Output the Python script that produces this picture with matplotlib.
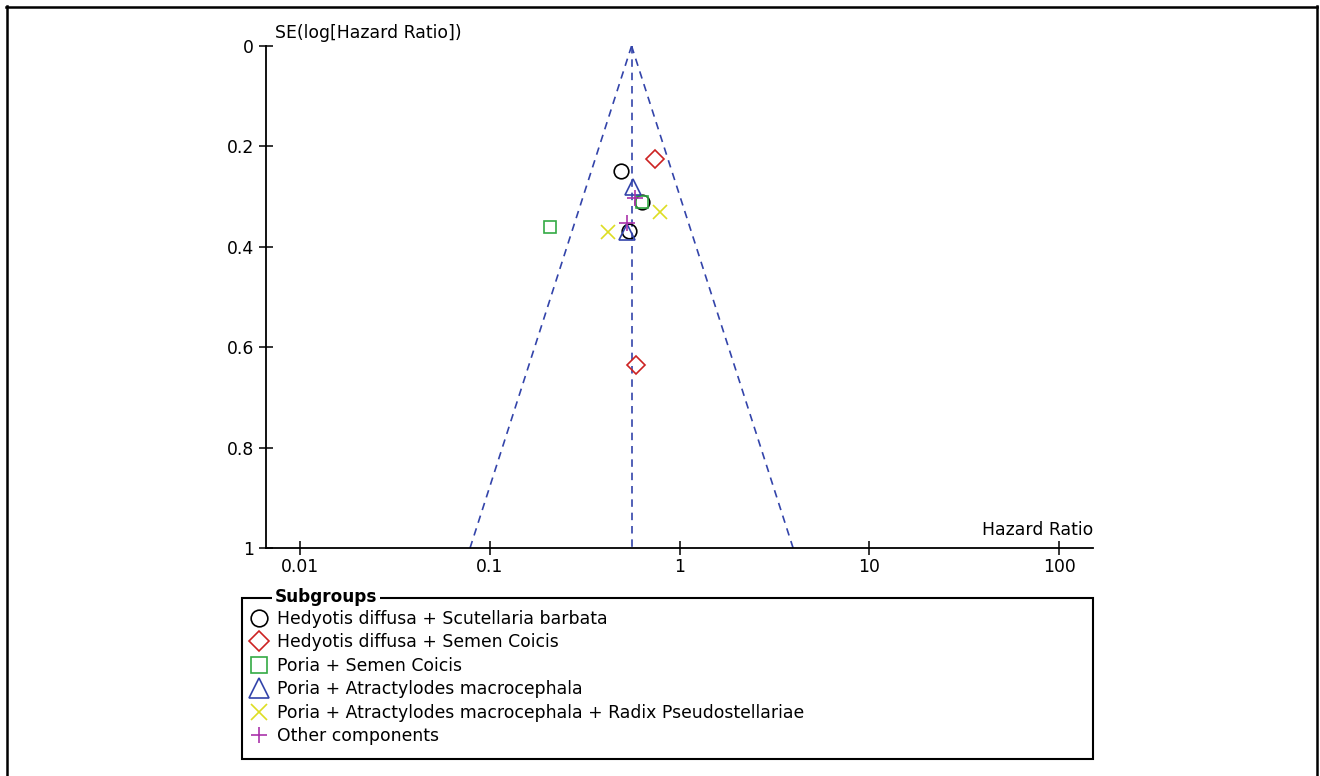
from matplotlib import pyplot as plt
from matplotlib.lines import Line2D
from matplotlib.patches import Rectangle
import numpy as np

# Donnees (HR, SE(log HR))
groupes = ['Hedyotis diffusa + Scutellaria barbata',
           'Hedyotis diffusa + Semen Coicis',
           'Poria + Semen Coicis',
           'Poria + Atractylodes macrocephala',
           'Poria + Atractylodes macrocephala + Radix Pseudostellariae',
           'Other components']
hr_circle = [0.489, 0.539, 0.631]
se_circle = [0.249, 0.369, 0.311]
hr_diamond = [0.739, 0.587]
se_diamond = [0.225, 0.635]
hr_square = [0.207, 0.638]
se_square = [0.361, 0.311]
hr_triangle = [0.566, 0.532]
se_triangle = [0.281, 0.370]
hr_x = [0.794, 0.418]
se_x = [0.331, 0.370]
hr_plus = [0.580, 0.532]
se_plus = [0.303, 0.353]
hr_pooled = 0.559

x_ticks = [0.01, 0.1, 1, 10, 100]
x_labels = ['0.01', '0.1', '1', '10', '100']
y_ticks = [0, 0.2, 0.4, 0.6, 0.8, 1]
y_labels = ['0', '0.2', '0.4', '0.6', '0.8', '1']

plt.rcParams['font.family'] = ['DejaVu Sans']
FS = 12.4
W, H = 1320, 776
fig = plt.figure(figsize=(W/100, H/100), dpi=100)

def fx(px):
    return px / W
def fy(py):
    return 1 - py / H

# cadre exterieur
for xs, ys in [([6, 1317], [7, 7]), ([7, 7], [6, 776]), ([1317, 1317], [6, 776])]:
    fig.add_artist(Line2D([fx(v) for v in xs], [fy(v) for v in ys], color='black', lw=1.8))

ax = fig.add_axes([fx(266), fy(548), fx(1093) - fx(266), fy(46) - fy(548)])
ax.set_xscale('log')
ax.set_xlim(10**-2.179, 10**2.179)
ax.set_ylim(1, 0)
for s in ['top', 'right']:
    ax.spines[s].set_visible(False)
ax.spines['left'].set_linewidth(1.3)
ax.spines['bottom'].set_linewidth(1.3)
ax.set_xticks(x_ticks)
ax.set_xticklabels(x_labels)
ax.minorticks_off()
ax.set_yticks(y_ticks)
ax.set_yticklabels(y_labels)
ax.tick_params(direction='inout', length=10, width=1.1, labelsize=FS)
ax.tick_params(axis='x', pad=2)

# entonnoir
se = np.array([0, 1])
bleu = '#3344aa'
tirets = (0, (4.5, 3.5))
ax.plot(hr_pooled * np.exp(-1.96 * se), se, ls=tirets, color=bleu, lw=1.2)
ax.plot(hr_pooled * np.exp(1.96 * se), se, ls=tirets, color=bleu, lw=1.2)
ax.plot([hr_pooled, hr_pooled], [0, 1], ls=tirets, color=bleu, lw=1.2)

styles = [
    (hr_circle, se_circle, 'o', 'black', 10.5, 12),
    (hr_diamond, se_diamond, 'D', '#cc2222', 9.5, 10.5),
    (hr_square, se_square, 's', '#33aa44', 9, 11),
    (hr_triangle, se_triangle, '^', bleu, 12, 14),
    (hr_x, se_x, 'x', '#dddd22', 10, 11),
    (hr_plus, se_plus, '+', '#aa33aa', 11, 12),
]
handles = []
for (x, y, m, c, ms, ms_leg), nom in zip(styles, groupes):
    ax.plot(x, y, ls='none', marker=m, ms=ms, mfc='none', mec=c, mew=1.2)
    handles.append(Line2D([], [], ls='none', marker=m, ms=ms_leg, mfc='none', mec=c, mew=1.2, label=nom))

fig.text(fx(275), fy(33), 'SE(log[Hazard Ratio])', fontsize=FS, va='center', ha='left')
ax.text(1.0, 0.018, 'Hazard Ratio', transform=ax.transAxes, fontsize=FS, ha='right', va='bottom')

# legende
fig.add_artist(Rectangle((fx(242), fy(759)), fx(1093) - fx(242), fy(598) - fy(759),
                         fill=False, ec='black', lw=1.5))
fig.text(fx(275), fy(597), 'Subgroups', fontsize=FS - 0.2, fontweight='bold', va='center', ha='left',
         bbox=dict(fc='white', ec='none', pad=2))
fig.legend(handles=handles, loc='upper left', bbox_to_anchor=(fx(243), fy(601)), frameon=False,
           fontsize=FS, handlelength=0.8, handletextpad=0.65, labelspacing=0.32, borderpad=0)

plt.savefig('out.png', dpi=100)
